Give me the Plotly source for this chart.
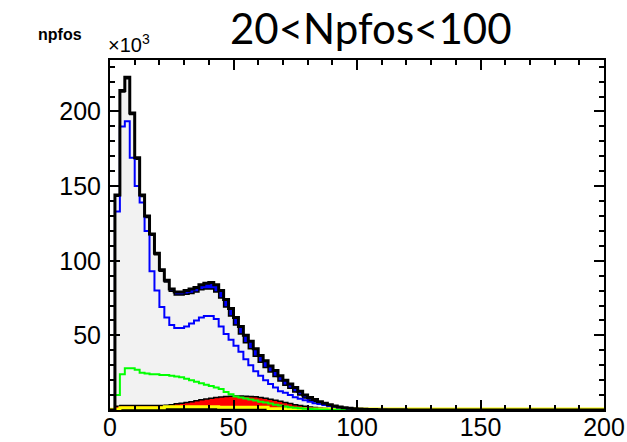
import plotly.graph_objects as go

# ---- data (bin width 2, range 0-200), values in thousands ----
bin_edges = [2 * i for i in range(101)]

total = [0, 144, 214, 223, 199, 169, 144, 130, 118, 105,
         94, 87, 81, 79, 79, 80, 81, 82, 84, 85,
         85.5, 84, 80, 74, 68, 62, 56, 50, 46, 41,
         36.5, 33, 29.5, 26.5, 23, 20, 17.5, 15, 12.5, 10,
         8.4, 7, 5.5, 4.5, 3.5, 2.7, 2.0, 1.5, 1.1, 0.8,
         0.6, 0.45, 0.35, 0.3, 0.25, 0.2, 0.15, 0.12, 0.1, 0.1] + [0.05] * 40

band = [0, 0.8, 1, 1, 1, 1, 1, 1, 1, 1,
        1, 1.2, 1.5, 2, 2, 2.5, 3, 3, 3.5, 4,
        4.5, 5, 5, 5, 5, 5, 5, 5, 5, 5,
        4.5, 4.5, 4, 4, 3.5, 3.5, 3, 3, 2.5, 2,
        1.8, 1.5, 1.2, 1, 0.8, 0.6, 0.5, 0.4, 0.3, 0.2] + [0] * 50

blue_line = [0, 133, 190, 193.5, 169, 150, 139, 120, 93, 80,
             69, 62, 57, 55, 55, 56, 58, 60, 62, 63,
             63, 61, 56, 51, 47, 43, 39, 34, 30, 26,
             23, 20, 17.5, 15, 12.5, 11.5, 10, 8.5, 7.5, 6.5,
             5.5, 4.5, 4, 3.3, 2.7, 2.2, 1.7, 1.3, 1.0, 0.7,
             0.5, 0.35, 0.25, 0.2, 0.15, 0.1] + [0] * 44

green_line = [0, 10, 24, 28, 28, 27, 25, 24.5, 24, 24,
              23.5, 23.5, 23, 22.5, 22, 21, 20, 19, 18, 17,
              16, 15, 14, 12, 10.5, 9, 8.4, 7.7, 7, 6.3,
              5.6, 5, 4.3, 3.6, 3, 2.4, 1.9, 1.5, 1.2, 0.9,
              0.7, 0.5, 0.4, 0.3, 0.2, 0.15] + [0] * 54

red_top = [0, 2.5, 3, 3, 3, 3, 3, 3, 3, 3,
           3, 3.2, 3.6, 4.2, 4.6, 5, 5.6, 6.2, 6.8, 7.4,
           7.8, 8.3, 8.7, 9, 9.2, 9.3, 9.3, 9.2, 9, 8.8,
           8.4, 7.8, 7.2, 6.5, 5.8, 5, 4.3, 3.6, 3, 2.5,
           2, 1.7, 1.4, 1.2, 1.0, 0.8, 0.6, 0.45, 0.35, 0.25,
           0.2] + [0] * 49

black_base = [0, 0] + [1.0] * 30 + [0] * 68

yellow_line = [0.5, 0.5] + [1.5] * 9 + [2.2] * 11 + [1.8] * 10 + [0.9] * 6 + [0.6] * 62

x_ticks = [0, 50, 100, 150, 200]
y_ticks = [50, 100, 150, 200]


def step(vals):
    return list(vals) + [vals[-1]]


grey_top = [t - b for t, b in zip(total, band)]

fig = go.Figure()

fig.add_trace(go.Scatter(x=bin_edges, y=step(total), mode="lines", line=dict(shape="hv", width=0),
                         fill="tozeroy", fillcolor="#0000ff", hoverinfo="skip"))
fig.add_trace(go.Scatter(x=bin_edges, y=step(grey_top), mode="lines",
                         line=dict(shape="hv", width=1.5, color="black"),
                         fill="tozeroy", fillcolor="#f2f2f2"))
fig.add_trace(go.Scatter(x=bin_edges, y=step(red_top), mode="lines",
                         line=dict(shape="hv", width=1.5, color="black"),
                         fill="tozeroy", fillcolor="#ff0000"))
fig.add_trace(go.Scatter(x=bin_edges, y=step(black_base), mode="lines",
                         line=dict(shape="hv", width=2, color="black"),
                         fill="tozeroy", fillcolor="black"))
fig.add_trace(go.Scatter(x=bin_edges, y=step(yellow_line), mode="lines",
                         line=dict(shape="hv", width=3, color="#ffff00")))
fig.add_trace(go.Scatter(x=bin_edges, y=step(green_line), mode="lines",
                         line=dict(shape="hv", width=2, color="#00ff00")))
fig.add_trace(go.Scatter(x=bin_edges, y=step(blue_line), mode="lines",
                         line=dict(shape="hv", width=2, color="#0000ff")))
fig.add_trace(go.Scatter(x=bin_edges, y=step(total), mode="lines",
                         line=dict(shape="hv", width=3, color="black")))

axis_common = dict(showline=True, linewidth=2, linecolor="black", mirror="allticks",
                   ticks="inside", ticklen=10, tickwidth=2, tickcolor="black",
                   showgrid=False, zeroline=False, automargin=False,
                   tickfont=dict(family="Liberation Sans, Arial", size=25, color="black"))

fig.update_xaxes(range=[0, 200], tickvals=x_ticks, ticktext=[str(v) for v in x_ticks],
                 minor=dict(ticks="inside", ticklen=5, tickwidth=2, tickcolor="black", dtick=10, tick0=0),
                 ticklabelstandoff=-6, **axis_common)
fig.update_yaxes(range=[0, 234.5], tickvals=y_ticks, ticktext=[str(v) for v in y_ticks],
                 minor=dict(ticks="inside", ticklen=5, tickwidth=2, tickcolor="black", dtick=10, tick0=0),
                 ticklabelstandoff=2, **axis_common)

fig.update_layout(
    width=627, height=442,
    margin=dict(l=110, r=23, t=60, b=32, autoexpand=False),
    plot_bgcolor="white", paper_bgcolor="white",
    showlegend=False,
    annotations=[
        dict(text="20<Npfos<100", x=0.528, y=1.09, xref="paper", yref="paper",
             xanchor="center", yanchor="middle", showarrow=False,
             font=dict(family="Lato", size=42, color="black")),
        dict(text="<b>npfos</b>", x=-0.101, y=1.072, xref="paper", yref="paper",
             xanchor="center", yanchor="middle", showarrow=False,
             font=dict(family="Liberation Sans, Arial", size=16, color="black")),
        dict(text="×10<sup>3</sup>", x=0.0, y=1.0, xref="paper", yref="paper",
             xanchor="left", yanchor="bottom", showarrow=False, yshift=2, xshift=-4,
             font=dict(family="Liberation Sans, Arial", size=20, color="black")),
    ],
)

fig.write_html("out.html", config={"displayModeBar": False},
               post_script="document.body.style.margin='0';document.body.style.overflow='hidden';")
